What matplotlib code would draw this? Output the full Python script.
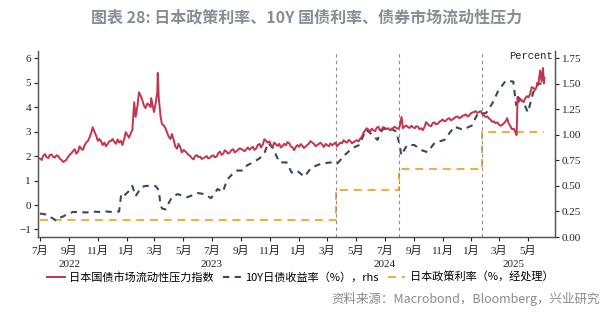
import numpy as np
import pandas as pd
import matplotlib
matplotlib.use("Agg")
import matplotlib.pyplot as plt
import matplotlib.transforms as mtransforms

plt.rcParams['font.family'] = ['Liberation Serif', 'Noto Sans CJK SC', 'DejaVu Sans']

# liquidity pressure index (left axis), Friday readings + a few event days
red_dates = [
    "2022-07-01", "2022-07-08", "2022-07-15", "2022-07-22", "2022-07-29", "2022-08-05", "2022-08-12",
    "2022-08-19", "2022-08-26", "2022-09-02", "2022-09-09", "2022-09-16", "2022-09-23", "2022-09-30",
    "2022-10-07", "2022-10-14", "2022-10-21", "2022-10-28", "2022-11-04", "2022-11-11", "2022-11-18",
    "2022-11-25", "2022-12-02", "2022-12-09", "2022-12-16", "2022-12-23", "2022-12-30",
    "2023-01-06", "2023-01-13", "2023-01-17", "2023-01-20", "2023-01-27", "2023-02-03", "2023-02-10",
    "2023-02-17", "2023-02-22", "2023-02-28", "2023-03-03", "2023-03-08", "2023-03-10", "2023-03-14",
    "2023-03-17", "2023-03-24", "2023-03-31", "2023-04-07", "2023-04-14", "2023-04-21", "2023-04-28",
    "2023-05-05", "2023-05-12", "2023-05-19", "2023-05-26", "2023-06-02", "2023-06-09", "2023-06-16",
    "2023-06-23", "2023-06-30", "2023-07-07", "2023-07-14", "2023-07-21", "2023-07-28", "2023-08-04",
    "2023-08-11", "2023-08-18", "2023-08-25", "2023-09-01", "2023-09-08", "2023-09-15", "2023-09-22",
    "2023-09-29", "2023-10-06", "2023-10-13", "2023-10-20", "2023-10-27", "2023-11-03", "2023-11-10",
    "2023-11-17", "2023-11-24", "2023-12-01", "2023-12-08", "2023-12-15", "2023-12-22", "2023-12-29",
    "2024-01-05", "2024-01-12", "2024-01-19", "2024-01-26", "2024-02-02", "2024-02-09", "2024-02-16",
    "2024-02-23", "2024-03-01", "2024-03-08", "2024-03-15", "2024-03-22", "2024-03-29", "2024-04-05",
    "2024-04-12", "2024-04-19", "2024-04-26", "2024-05-03", "2024-05-10", "2024-05-17", "2024-05-24",
    "2024-05-31", "2024-06-07", "2024-06-14", "2024-06-21", "2024-06-28", "2024-07-05", "2024-07-12",
    "2024-07-19", "2024-07-26", "2024-08-02", "2024-08-06", "2024-08-09", "2024-08-16", "2024-08-23",
    "2024-08-30", "2024-09-06", "2024-09-13", "2024-09-20", "2024-09-27", "2024-10-04", "2024-10-11",
    "2024-10-18", "2024-10-25", "2024-11-01", "2024-11-08", "2024-11-15", "2024-11-22", "2024-11-29",
    "2024-12-06", "2024-12-13", "2024-12-20", "2024-12-27",
    "2025-01-03", "2025-01-10", "2025-01-17", "2025-01-24", "2025-01-31", "2025-02-07", "2025-02-14",
    "2025-02-21", "2025-02-28", "2025-03-07", "2025-03-14", "2025-03-18", "2025-03-21", "2025-03-28",
    "2025-04-04", "2025-04-07", "2025-04-09", "2025-04-11", "2025-04-18", "2025-04-25", "2025-05-02",
    "2025-05-09", "2025-05-16", "2025-05-21", "2025-05-23", "2025-05-27", "2025-05-30", "2025-06-02",
    "2025-06-04", "2025-06-05",
]
red_vals = [
    1.90, 2.02, 1.95, 2.05, 1.97, 2.03, 1.90,
    1.76, 1.85, 2.05, 2.20, 2.10, 2.40, 2.25,
    2.55, 2.75, 3.18, 2.85, 2.70, 2.45, 2.40,
    2.60, 2.70, 2.50, 2.55, 2.45, 2.98,
    2.75, 3.05, 4.20, 3.60, 4.61, 4.30, 3.96,
    4.10, 4.37, 3.80, 4.10, 5.40, 4.40, 3.60,
    3.30, 3.15, 2.80, 2.90, 2.40, 2.50, 2.15,
    2.20, 2.05, 1.92, 2.00, 1.96, 1.88, 1.95,
    1.90, 2.00, 1.95, 2.12, 2.05, 2.24, 2.10,
    2.24, 2.15, 2.25, 2.29, 2.20, 2.35, 2.33,
    2.25, 2.45, 2.35, 2.69, 2.55, 2.45, 2.55,
    2.41, 2.35, 2.50, 2.57, 2.40, 2.24, 2.45,
    2.49, 2.33, 2.45, 2.61, 2.50, 2.45, 2.55,
    2.37, 2.45, 2.52, 2.49, 2.40, 2.55, 2.65,
    2.55, 2.62, 2.57, 2.65, 2.70, 2.94, 3.14,
    3.00, 3.06, 3.15, 3.05, 3.18, 3.10, 3.06,
    3.15, 3.14, 3.20, 3.60, 3.14, 3.25, 3.15,
    3.18, 3.22, 3.10, 3.06, 3.39, 3.25, 3.35,
    3.30, 3.40, 3.50, 3.45, 3.55, 3.50, 3.60,
    3.55, 3.65, 3.71, 3.65,
    3.78, 3.84, 3.80, 3.72, 3.60, 3.55, 3.40,
    3.35, 3.30, 3.27, 3.40, 3.55, 3.35, 3.10,
    3.00, 2.86, 4.40, 4.20, 4.28, 4.35, 4.40,
    4.82, 4.70, 5.00, 4.90, 5.50, 5.05, 5.60,
    4.97, 5.20,
]
# same index, Tuesday readings (2022-07-05 .. 2025-06-03)
red_tue_vals = [
    1.84, 2.08, 1.92, 2.06, 1.94, 2.00, 1.84, 1.80, 1.98, 2.12, 2.28, 2.18, 2.30,
    2.45, 2.62, 2.95, 2.98, 2.62, 2.60, 2.55, 2.50, 2.62, 2.58, 2.68, 2.62, 2.70,
    2.85, 2.95, 4.20, 4.05, 4.45, 4.05, 4.15, 4.00, 3.80, 4.60, 3.60, 3.25, 2.95,
    2.70, 2.65, 2.30, 2.35, 2.25, 2.12, 2.00, 1.86, 2.04, 1.98, 1.92, 2.00, 1.94,
    2.03, 1.98, 2.18, 2.10, 2.18, 2.15, 2.28, 2.20, 2.32, 2.24, 2.28, 2.26, 2.38,
    2.32, 2.50, 2.48, 2.62, 2.60, 2.38, 2.48, 2.50, 2.42, 2.44, 2.52, 2.35, 2.38,
    2.38, 2.42, 2.40, 2.52, 2.55, 2.40, 2.50, 2.46, 2.50, 2.40, 2.44, 2.55, 2.48,
    2.52, 2.58, 2.66, 2.52, 2.62, 2.60, 2.80, 3.05, 3.08, 3.12, 3.02, 3.20, 3.10,
    3.15, 3.14, 3.08, 3.20, 3.12, 3.60, 3.22, 3.18, 3.24, 3.14, 3.20, 3.14, 3.20,
    3.30, 3.22, 3.38, 3.32, 3.44, 3.42, 3.52, 3.46, 3.55, 3.62, 3.58, 3.66, 3.62,
    3.74, 3.80, 3.76, 3.84, 3.66, 3.62, 3.48, 3.42, 3.38, 3.24, 3.34, 3.55, 3.22,
    3.12, 3.50, 4.32, 4.20, 4.45, 4.55, 4.78, 4.85, 5.50, 5.30,
]

# 10Y JGB yield (right axis)
jgb_dates = [
    "2022-07-01", "2022-07-15", "2022-07-29", "2022-08-05", "2022-08-12", "2022-08-19", "2022-08-26",
    "2022-09-09", "2022-09-23", "2022-10-07", "2022-10-21", "2022-11-04", "2022-11-18", "2022-12-02",
    "2022-12-16", "2022-12-20", "2022-12-23", "2022-12-30", "2023-01-06", "2023-01-13", "2023-01-20",
    "2023-01-27", "2023-02-03", "2023-02-10", "2023-02-17", "2023-02-24", "2023-03-03", "2023-03-10",
    "2023-03-14", "2023-03-17", "2023-03-24", "2023-03-31", "2023-04-07", "2023-04-19", "2023-05-10",
    "2023-06-01", "2023-06-15", "2023-06-29", "2023-07-13", "2023-07-24", "2023-08-02", "2023-08-12",
    "2023-08-23", "2023-09-04", "2023-09-13", "2023-09-26", "2023-10-10", "2023-10-21", "2023-10-28",
    "2023-11-07", "2023-11-21", "2023-12-06", "2023-12-17", "2023-12-28", "2024-01-13", "2024-01-28",
    "2024-02-19", "2024-03-11", "2024-03-23", "2024-04-07", "2024-04-24", "2024-05-08", "2024-05-23",
    "2024-06-05", "2024-06-16", "2024-06-26", "2024-07-11", "2024-07-26", "2024-08-03", "2024-08-05",
    "2024-08-18", "2024-09-02", "2024-09-17", "2024-09-30", "2024-10-15", "2024-11-05", "2024-11-26",
    "2024-12-14", "2025-01-02", "2025-01-15", "2025-02-01", "2025-02-15", "2025-02-26", "2025-03-15",
    "2025-03-31", "2025-04-06", "2025-04-10", "2025-04-21", "2025-05-01", "2025-05-12", "2025-05-22",
    "2025-06-05",
]
jgb_vals = [
    0.23, 0.22, 0.18, 0.16, 0.19, 0.20, 0.22,
    0.245, 0.245, 0.24, 0.25, 0.245, 0.25, 0.245,
    0.25, 0.40, 0.38, 0.42, 0.45, 0.50, 0.40,
    0.45, 0.49, 0.50, 0.50, 0.50, 0.50, 0.46,
    0.31, 0.28, 0.27, 0.33, 0.39, 0.42, 0.39,
    0.43, 0.42, 0.38, 0.47, 0.44, 0.56, 0.61,
    0.65, 0.65, 0.70, 0.73, 0.77, 0.83, 0.92,
    0.87, 0.73, 0.73, 0.63, 0.65, 0.59, 0.68,
    0.72, 0.73, 0.72, 0.80, 0.87, 0.90, 1.05,
    1.00, 0.95, 1.05, 1.07, 1.03, 0.88, 0.80,
    0.90, 0.90, 0.85, 0.83, 0.92, 0.95, 1.08,
    1.05, 1.09, 1.21, 1.21, 1.31, 1.42, 1.53,
    1.52, 1.29, 1.37, 1.32, 1.22, 1.41, 1.50,
    1.50,
]

# BOJ policy rate, processed (right axis)
rate_dates = ["2022-07-01", "2024-03-19", "2024-07-31", "2025-01-24", "2025-06-05"]
rate_vals = [0.17, 0.46, 0.67, 1.03, 1.03]

event_dates = ["2024-03-19", "2024-07-31", "2025-01-24"]

year_labels = ["2022", "2023", "2024", "2025"]
year_pos = ["2022-09-01", "2023-07-01", "2024-07-01", "2025-04-01"]

RED = "#C4344E"
BLUE = "#3B4661"
GOLD = "#E8B24A"
SPINE = "#555555"

red = pd.Series(red_vals, index=pd.to_datetime(red_dates))
red_tue = pd.Series(red_tue_vals, index=pd.date_range("2022-07-05", "2025-06-03", freq="W-TUE"))
red = pd.concat([red, red_tue]).sort_index()
red = red[~red.index.duplicated(keep="first")]

fig = plt.figure(figsize=(6.13, 3.32), dpi=100)
ax = fig.add_axes([0.062, 0.286, 0.843, 0.56])
ax2 = ax.twinx()

for d in event_dates:
    ax.axvline(pd.Timestamp(d), color="#8C8C8C", lw=0.8, ls=(0, (3, 3)), zorder=1)

l1, = ax.plot(red.index, red.values, color=RED, lw=1.4, zorder=5,
              label="日本国债市场流动性压力指数")
l3, = ax2.plot(pd.to_datetime(rate_dates), rate_vals, color=GOLD, lw=1.5, ls=(0, (3.8, 2.8)),
               drawstyle="steps-post", zorder=3, label="日本政策利率（%，经处理）")
l2, = ax2.plot(pd.to_datetime(jgb_dates), jgb_vals, color=BLUE, lw=1.5, ls=(0, (3, 2.6)),
               zorder=4, label="10Y日债收益率（%），rhs")
ax.set_zorder(ax2.get_zorder() + 1)
ax.patch.set_visible(False)

ax.set_xlim(pd.Timestamp("2022-06-27"), pd.Timestamp("2025-06-27"))
ax.set_ylim(-1.31, 6.29)
ax.set_yticks(range(-1, 7))
ax2.set_ylim(0, 1.818)
ax2.set_yticks(np.arange(0, 1.76, 0.25))
ax2.set_yticklabels([f"{v:.2f}" for v in np.arange(0, 1.76, 0.25)])

months = pd.date_range("2022-07-01", "2025-05-01", freq="2MS")
ax.set_xticks(months)
ax.set_xticklabels([f"{m.month}月" for m in months])

for a in (ax, ax2):
    a.spines["top"].set_visible(False)
    for s in ("left", "right", "bottom"):
        a.spines[s].set_color(SPINE)
        a.spines[s].set_linewidth(0.9)
    a.tick_params(colors="#222222", labelsize=8, length=3, width=0.8, pad=2)
ax.tick_params(axis="x", pad=3)

tr = mtransforms.blended_transform_factory(ax.transData, ax.transAxes)
for lab, pos in zip(year_labels, year_pos):
    ax.text(pd.Timestamp(pos), -0.145, lab, transform=tr, ha="center", va="center",
            fontsize=8, color="#222222")

ax.text(0.997, 0.975, "Percent", transform=ax.transAxes, ha="right", va="center",
        fontsize=7.5, family="Liberation Mono", color="#222222")

fig.text(0.5, 1 - 17 / 332, "图表 28: 日本政策利率、10Y 国债利率、债券市场流动性压力",
         ha="center", va="center", fontsize=11.5, fontweight="bold", color="#878D97",
         family=["Noto Sans CJK SC", "DejaVu Sans"])

fig.legend(handles=[l1, l2, l3], loc="center", bbox_to_anchor=(0.49, 1 - 277 / 332), ncol=3,
           frameon=False, handlelength=1.6, handletextpad=0.4, columnspacing=0.8,
           prop={"family": ["Noto Sans CJK SC", "DejaVu Sans"], "size": 8})

fig.text(0.978, 1 - 299 / 332, "资料来源：Macrobond，Bloomberg，兴业研究", ha="right", va="center",
         fontsize=9, color="#8A8A8A", family=["Noto Sans CJK SC", "DejaVu Sans"])

fig.savefig("out.png", dpi=100)
